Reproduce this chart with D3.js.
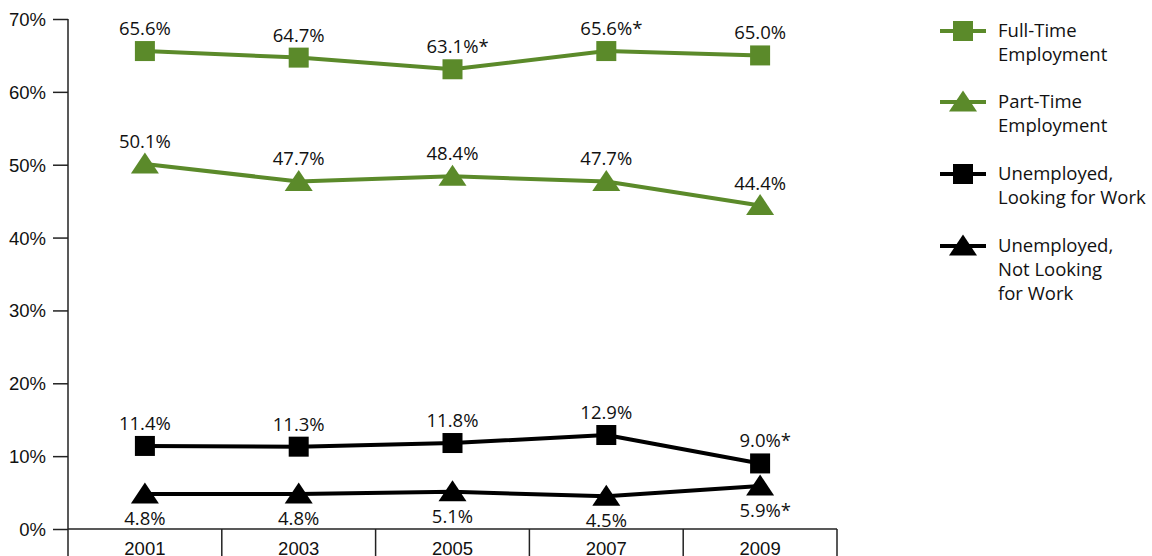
<!DOCTYPE html>
<html>
<head>
<meta charset="utf-8">
<script src="https://cdn.jsdelivr.net/npm/d3@7"></script>
<style>
  html, body { margin: 0; padding: 0; background: #fff; }
  svg { display: block; font-family: "Open Sans", "Noto Sans", sans-serif; }
  text { fill: #111; }
</style>
</head>
<body>
<svg id="chart" width="1152" height="556"></svg>
<script>
// Survey years
const years = ["2001", "2003", "2005", "2007", "2009"];

// Percentages per employment status
const fullTime      = [65.6, 64.7, 63.1, 65.6, 65.0];
const partTime      = [50.1, 47.7, 48.4, 47.7, 44.4];
const unempLooking  = [11.4, 11.3, 11.8, 12.9, 9.0];
const unempNotLook  = [4.8, 4.8, 5.1, 4.5, 5.9];

// Flags for values marked with an asterisk
const fullTimeFlag     = [false, false, true, true, false];
const partTimeFlag     = [false, false, false, false, false];
const unempLookingFlag = [false, false, false, false, true];
const unempNotLookFlag = [false, false, false, false, true];

// Y-axis ticks
const yTicks = [0, 10, 20, 30, 40, 50, 60, 70];

const GREEN = "#5b8a2a";
const BLACK = "#000";

const series = [
  { name: ["Full-Time", "Employment"], values: fullTime, flags: fullTimeFlag, color: GREEN, shape: "square", labelPos: "above" },
  { name: ["Part-Time", "Employment"], values: partTime, flags: partTimeFlag, color: GREEN, shape: "triangle", labelPos: "above" },
  { name: ["Unemployed,", "Looking for Work"], values: unempLooking, flags: unempLookingFlag, color: BLACK, shape: "square", labelPos: "above" },
  { name: ["Unemployed,", "Not Looking", "for Work"], values: unempNotLook, flags: unempNotLookFlag, color: BLACK, shape: "triangle", labelPos: "below" }
];

const svg = d3.select("#chart");
const FONT = 18.5;

const x = d3.scaleBand().domain(years).range([68, 837]);
const y = d3.scaleLinear().domain([0, 70]).range([529, 19]);
const cx = d => x(d) + x.bandwidth() / 2;

// Y axis
const yAxis = svg.append("g")
  .attr("transform", "translate(68,0)")
  .call(d3.axisLeft(y).tickValues(yTicks).tickSize(15).tickSizeOuter(0).tickPadding(7).tickFormat(d => d + "%"));
yAxis.select(".domain").remove();
yAxis.selectAll(".tick line").attr("stroke", "#222").attr("stroke-width", 1.5);
yAxis.selectAll(".tick text").attr("font-size", FONT).attr("font-family", null).attr("fill", "#111").attr("dy", "0.35em");
svg.append("line")
  .attr("x1", 68).attr("x2", 68).attr("y1", y(70)).attr("y2", 556)
  .attr("stroke", "#222").attr("stroke-width", 1.5);

// X axis with band separators
const xAxis = svg.append("g")
  .attr("transform", "translate(0,529)")
  .call(d3.axisBottom(x).tickSize(0).tickPadding(13));
xAxis.select(".domain").remove();
xAxis.selectAll(".tick text").attr("font-size", FONT).attr("font-family", null).attr("fill", "#111").attr("dy", "0.71em");
svg.append("line")
  .attr("x1", 68).attr("x2", 837).attr("y1", 529).attr("y2", 529)
  .attr("stroke", "#222").attr("stroke-width", 1.5);
svg.append("g").selectAll("line")
  .data(years.slice(1).concat(["end"]))
  .join("line")
  .attr("x1", (d, i) => i < years.length - 1 ? x(d) : x(years[years.length - 1]) + x.bandwidth())
  .attr("x2", (d, i) => i < years.length - 1 ? x(d) : x(years[years.length - 1]) + x.bandwidth())
  .attr("y1", 529).attr("y2", 556)
  .attr("stroke", "#222").attr("stroke-width", 1.5);

// Marker shapes
const SQ = 20, TW = 28, TH = 21;
function drawMarker(g, shape, color, px, py) {
  if (shape === "square") {
    g.append("rect").attr("x", px - SQ / 2).attr("y", py - SQ / 2)
      .attr("width", SQ).attr("height", SQ).attr("fill", color);
  } else {
    g.append("path")
      .attr("d", `M${px},${py - TH / 2 - 1}L${px + TW / 2},${py + TH / 2 - 1}L${px - TW / 2},${py + TH / 2 - 1}Z`)
      .attr("fill", color);
  }
}

const line = d3.line().x((d, i) => cx(years[i])).y(d => y(d));

series.forEach(s => {
  const g = svg.append("g");
  g.append("path").datum(s.values)
    .attr("d", line).attr("fill", "none")
    .attr("stroke", s.color).attr("stroke-width", 4).attr("stroke-linejoin", "round");
  s.values.forEach((v, i) => drawMarker(g, s.shape, s.color, cx(years[i]), y(v)));

  // Value labels
  s.values.forEach((v, i) => {
    const px = cx(years[i]);
    const py = s.labelPos === "above" ? y(v) - 16 : y(v) + 31;
    const t = g.append("text")
      .attr("x", px).attr("y", py)
      .attr("text-anchor", "middle")
      .attr("font-size", FONT)
      .text(v.toFixed(1) + "%");
    if (s.flags[i]) {
      const w = t.node().getComputedTextLength();
      g.append("text")
        .attr("x", px + w / 2).attr("y", py)
        .attr("font-size", FONT)
        .text("*");
    }
  });
});

// Legend
const legend = svg.append("g");
const legendY = [31, 102, 174, 246];
series.forEach((s, k) => {
  const ly = legendY[k];
  legend.append("line")
    .attr("x1", 940).attr("x2", 986).attr("y1", ly).attr("y2", ly)
    .attr("stroke", s.color).attr("stroke-width", 4);
  drawMarker(legend, s.shape, s.color, 963, ly);
  s.name.forEach((n, j) => {
    legend.append("text")
      .attr("x", 998).attr("y", ly + j * 24)
      .attr("dy", "0.35em")
      .attr("font-size", FONT)
      .text(n);
  });
});
</script>
</body>
</html>
